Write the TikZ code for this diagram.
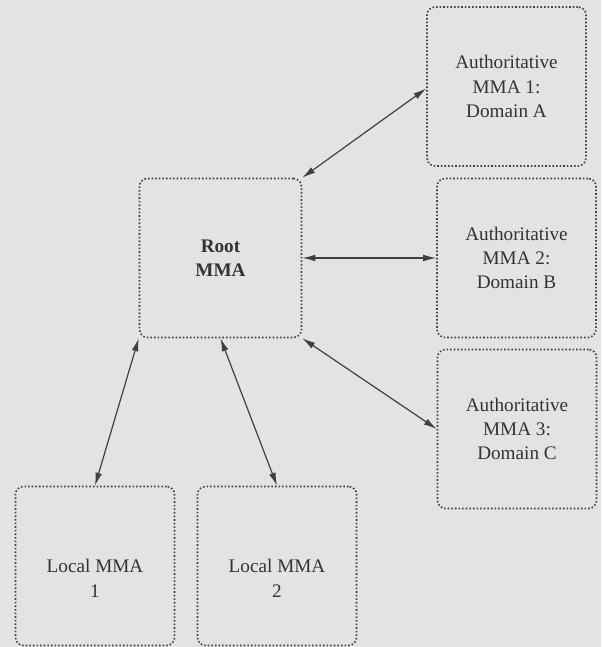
\documentclass[tikz,border=0pt]{standalone}
\usepackage{fontspec}
\setmainfont{Liberation Serif}
\usetikzlibrary{arrows.meta}
\tikzset{
    mmabox/.style={draw=black!75, densely dotted, line width=0.8pt, rounded corners=4pt,
        minimum width=79.5pt, minimum height=79.5pt, align=center, text=black!80,
        font=\fontsize{9.6pt}{12.2pt}\selectfont},
    link/.style={{Latex[length=6.5pt,width=3.4pt]}-{Latex[length=6.5pt,width=3.4pt]}, black!75, line width=0.6pt}
}
\begin{document}
\begin{tikzpicture}[x=0.5pt, y=-0.5pt]
    % background of the scanned page
    \fill[black!11] (0,0) rectangle (601,647);
    \useasboundingbox (0,0) rectangle (601,647);
    % root and authoritative servers
    \node[mmabox, minimum width=81pt, font=\fontsize{9.6pt}{12.2pt}\selectfont\bfseries] (root) at (220.5,258) {Root\\MMA};
    \node[mmabox] (auth1) at (506.5,86.5) {Authoritative\\MMA 1:\\Domain A};
    \node[mmabox] (auth2) at (516.5,258) {Authoritative\\MMA 2:\\Domain B};
    \node[mmabox] (auth3) at (517,429) {Authoritative\\MMA 3:\\Domain C};
    % local servers (text sits a little low)
    \node[mmabox] (local1) at (95,566) {\rule{0pt}{19pt}Local MMA\\1};
    \node[mmabox] (local2) at (277,566) {\rule{0pt}{19pt}Local MMA\\2};
    % links
    \draw[link] (root.north east) -- ([yshift=-1pt]auth1.west);
    \draw[link] (root.east) -- (auth2.west);
    \draw[link] (root.south east) -- (auth3.west);
    \draw[link] (root.south west) -- (local1.north);
    \draw[link] (root.south) -- (local2.north);
\end{tikzpicture}
\end{document}
